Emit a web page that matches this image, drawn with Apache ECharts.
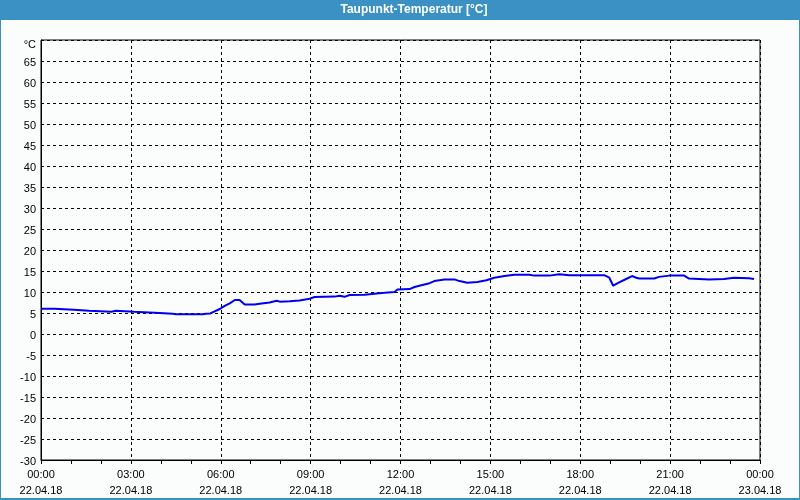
<!DOCTYPE html>
<html>
<head>
<meta charset="utf-8">
<script src="https://cdn.jsdelivr.net/npm/echarts@6/dist/echarts.min.js"></script>
<style>
html,body{margin:0;padding:0;background:#fbfdfc;}
#chart{width:800px;height:500px;}
</style>
</head>
<body>
<div id="chart"></div>
<script>
// Data: hours since 22.04.18 00:00, dew point in °C
var hours = [0.00,0.45,0.50,1.10,1.15,1.60,1.65,2.35,2.40,2.50,2.55,3.10,3.15,3.80,3.85,4.40,4.50,5.40,5.50,5.65,5.97,6.13,6.30,6.47,6.63,6.80,7.13,7.30,7.63,7.87,7.97,8.30,8.63,8.97,9.13,9.80,9.97,10.13,10.30,10.80,11.13,11.47,11.80,11.90,12.30,12.47,12.63,12.97,13.13,13.47,13.80,13.97,14.23,14.57,14.87,15.13,15.47,15.80,16.30,16.47,16.97,17.30,17.63,18.80,18.97,19.10,19.30,19.53,19.73,19.87,19.97,20.47,20.63,20.97,21.47,21.63,22.30,22.80,23.13,23.63,23.80];
var dewPoint = [6.0,6.0,5.8,5.8,5.55,5.55,5.3,5.3,5.55,5.55,5.3,5.3,5.2,5.07,4.85,4.8,4.7,4.7,4.8,4.9,5.95,6.7,7.3,8.1,8.1,7.0,7.0,7.2,7.5,7.9,7.7,7.8,8.0,8.4,8.8,8.9,9.1,8.85,9.3,9.35,9.6,9.8,10.0,10.6,10.7,11.2,11.5,12.1,12.6,13.0,13.0,12.6,12.2,12.4,12.8,13.4,13.8,14.1,14.1,13.9,13.9,14.2,14.0,14.0,13.4,11.5,12.3,13.1,13.8,13.4,13.2,13.2,13.6,13.9,13.9,13.2,13.0,13.1,13.4,13.3,13.1];
var timeLabels = ['00:00','03:00','06:00','09:00','12:00','15:00','18:00','21:00','00:00'];
var dateLabels = ['22.04.18','22.04.18','22.04.18','22.04.18','22.04.18','22.04.18','22.04.18','22.04.18','23.04.18'];
var titleText = 'Taupunkt-Temperatur [°C]';
var unitLabel = '°C';

var seriesData = hours.map(function(h,i){return [h, dewPoint[i]];});

var chart = echarts.init(document.getElementById('chart'));
chart.setOption({
  backgroundColor: '#fbfdfc',
  animation: false,
  textStyle: {fontFamily: 'Liberation Sans'},
  graphic: [
    {type:'rect', shape:{x:0,y:0,width:800,height:20}, style:{fill:'#3c91c4'}, z:0},
    {type:'text', x:414, y:10, style:{text:titleText, fill:'#ffffff', font:'bold 12px "Liberation Sans"', textAlign:'center', textVerticalAlign:'middle'}, z:1},
    {type:'rect', shape:{x:0,y:20,width:1,height:480}, style:{fill:'#3c91c4'}},
    {type:'rect', shape:{x:799,y:20,width:1,height:480}, style:{fill:'#3c91c4'}},
    {type:'rect', shape:{x:0,y:498,width:800,height:2}, style:{fill:'#3c91c4'}}
  ],
  grid: {left:41, right:40, top:40, bottom:40, show:true, borderColor:'#000', borderWidth:1, backgroundColor:'transparent'},
  xAxis: {
    type:'value', min:0, max:24, interval:3,
    axisLine:{show:true, onZero:false, lineStyle:{color:'#000', width:1}},
    axisTick:{show:true, length:4, inside:false, lineStyle:{color:'#000'}},
    minorTick:{show:true, splitNumber:3, length:4, lineStyle:{color:'#000'}},
    splitLine:{show:true, lineStyle:{color:'#000', type:[3,3], width:1}},
    axisLabel:{
      color:'#000', fontSize:11, fontFamily:'Liberation Sans', lineHeight:16, margin:7,
      formatter:function(v){var i=Math.round(v/3); return timeLabels[i]+'\n'+dateLabels[i];}
    }
  },
  yAxis: {
    type:'value', min:-30, max:70, interval:5,
    axisLine:{show:true, onZero:false, lineStyle:{color:'#000', width:1}},
    axisTick:{show:false},
    splitLine:{show:true, lineStyle:{color:'#000', type:[3,3], width:1}},
    axisLabel:{
      color:'#000', fontSize:11, fontFamily:'Liberation Sans', margin:5, padding:[3,0,0,0],
      formatter:function(v){ return v===70 ? '{u|'+unitLabel+'}' : String(v); },
      rich:{u:{fontSize:11, fontFamily:'Liberation Sans', color:'#000', padding:[7,0,0,0]}}
    }
  },
  series: [{
    type:'line', data:seriesData, showSymbol:false, smooth:false,
    lineStyle:{color:'#0000f0', width:2}, itemStyle:{color:'#0000f0'}
  }]
});
</script>
</body>
</html>
